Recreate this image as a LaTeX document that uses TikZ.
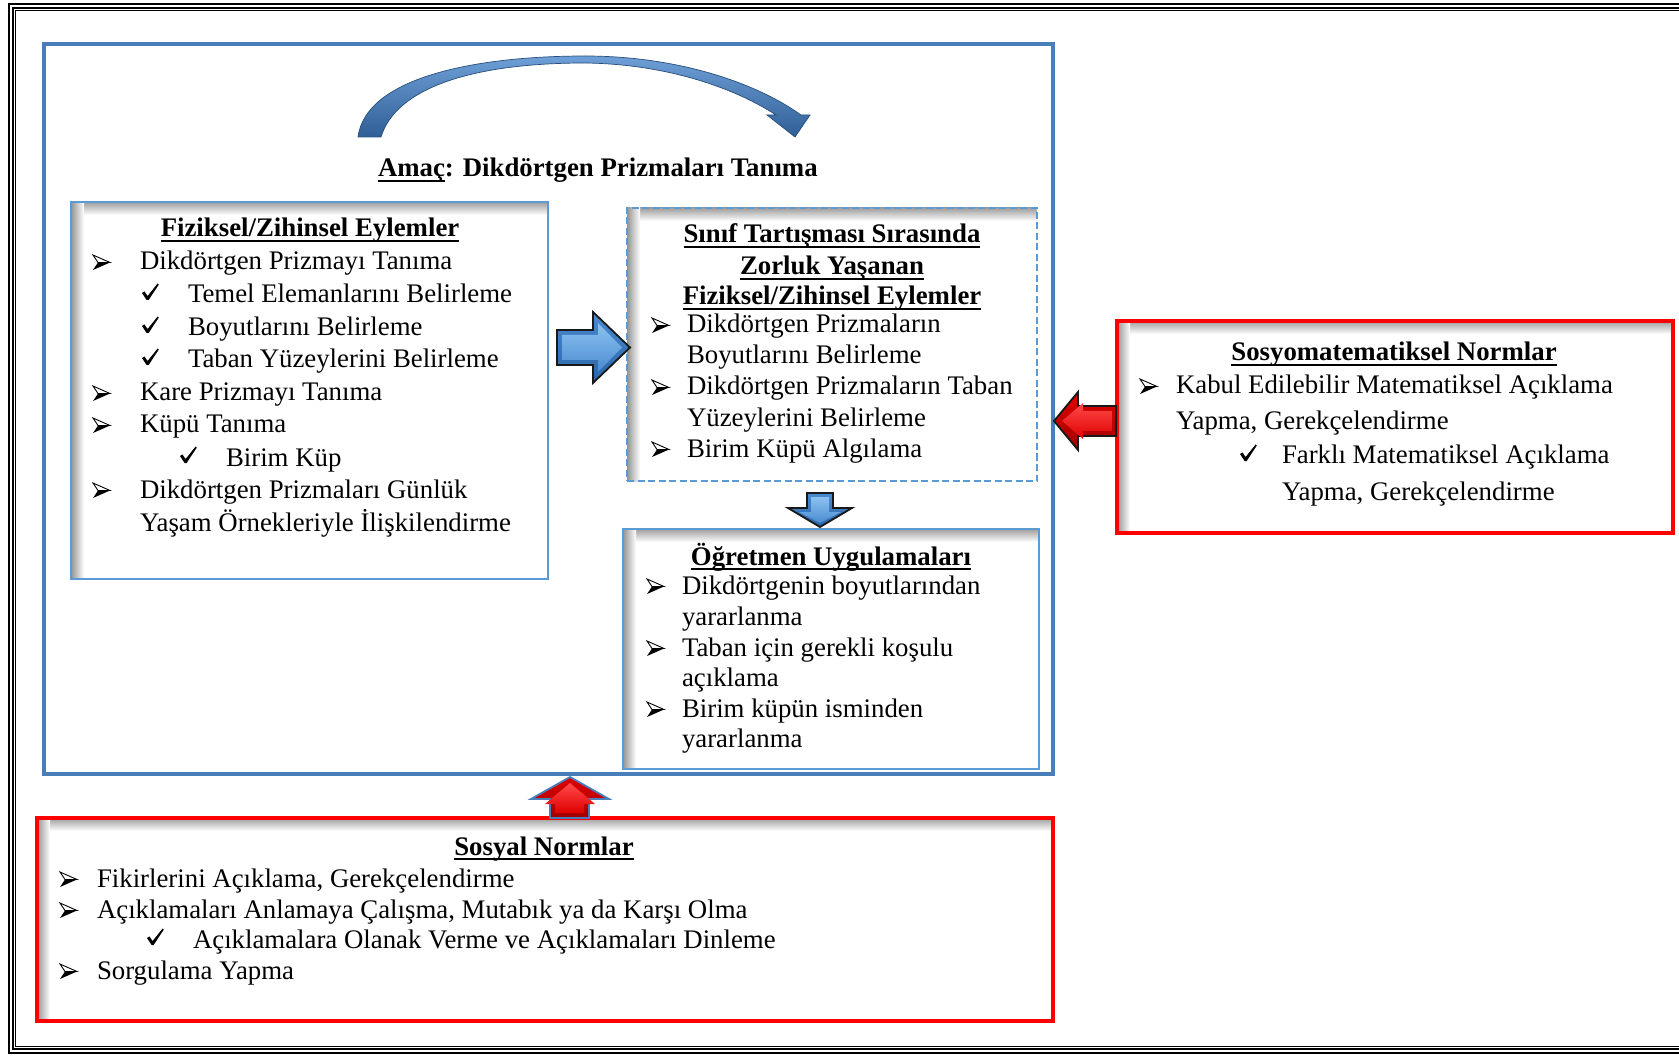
\documentclass[tikz,border=0pt]{standalone}
\usepackage{fontspec}
\setmainfont{Liberation Serif}
\usetikzlibrary{calc}
\definecolor{frameblue}{HTML}{4A7EBB}
\definecolor{boxblue}{HTML}{5B9BD5}
\definecolor{arrowlight}{HTML}{6E9FD6}
\definecolor{arrowdark}{HTML}{2F5F96}
\definecolor{arrowedge}{HTML}{274E7A}
\definecolor{blocklight}{HTML}{8CC2F0}
\definecolor{blockmid}{HTML}{4A8BD0}
\definecolor{blockdark}{HTML}{2A64A8}
\definecolor{redlight}{HTML}{FF4A4A}
\definecolor{redmid}{HTML}{E00000}
\definecolor{reddark}{HTML}{A00000}
\newcommand\body{\fontsize{26.8}{32}\selectfont}
% white panel with a soft inner shadow along its left and top edges
\newcommand\panel[6]{%
  \fill[white] (#3,#4) rectangle (#5,#6);
  \shade[top color=black!38, bottom color=white] (#3,#4) rectangle (#5,{#4+13});
  \shade[left color=black!42, right color=white] (#3,#4) rectangle ({#3+13},#6);
  \node[#1, anchor=north west, minimum width={(#5-#3)*1pt}, minimum height={(#6-#4)*1pt}] (#2) at (#3,#4) {};
}
\newcommand\uline[1]{\draw[ul] ([yshift=-4pt]#1.base west) -- ([yshift=-4pt]#1.base east);}
\begin{document}
\begin{tikzpicture}[x=1pt,y=-1pt,
  txt/.style={anchor=base west,inner sep=0pt,outer sep=0pt,font=\body},
  hd/.style={anchor=base,inner sep=0pt,outer sep=0pt,font=\body\bfseries},
  ul/.style={line width=1.8pt},
  bluebox/.style={draw=boxblue,line width=2.4pt,inner sep=0pt,outer sep=0pt},
  dashbox/.style={bluebox,dash pattern=on 7pt off 3.5pt},
  redbox/.style={draw=red,line width=3.5pt,inner sep=0pt,outer sep=0pt},
  mainbox/.style={draw=frameblue,line width=3.2pt,inner sep=0pt,outer sep=0pt},
  bluearrow/.style={top color=blockmid,bottom color=blockdark,draw=black!90,line width=1.8pt,line join=miter},
  bluebevel/.style={top color=blocklight,bottom color=blockmid},
  redarrow/.style={top color=redmid,bottom color=reddark,draw=black!90,line width=1.8pt,line join=miter},
  redbevel/.style={top color=redlight,bottom color=redmid},
  arrbul/.pic={
    \fill[black] (5,-7.5) -- (17,-7.5) -- (0,0) -- cycle;
    \draw[black,line width=0.9pt,line join=miter] (0,-15) -- (17,-7.5) -- (5,-7.5) -- cycle;
  },
  chk/.pic={
    \fill[black] (0,-10) -- (2.4,-11.6) -- (5.6,-7) -- (15.6,-19.5) -- (16.8,-18.4) -- (6.6,-3) -- (4.6,-3) -- cycle;
  }]
\useasboundingbox (0,0) rectangle (1679,1056);
\clip (0,0) rectangle (1679,1056);
\fill[white] (0,0) rectangle (1679,1056);

% page frame
\draw[line width=2.4pt] (9,4) rectangle (1710,1053);
\draw[line width=1.1pt] (13,8) rectangle (1706,1049);
\draw[line width=1.1pt] (15.5,10.5) rectangle (1703,1046.5);

% goal container
\node[mainbox, anchor=north west, minimum width=1009pt, minimum height=730pt] (goalbox) at (44,44) {};

% curved arrow over the goal
\shade[top color=arrowlight, bottom color=arrowdark, draw=arrowedge, line width=0.7pt, line join=miter]
  (358,137) .. controls (366,76) and (480,56) .. (585,56)
  .. controls (680,56) and (758,84) .. (801,115)
  -- (810,115) -- (795,137) -- (767,115) -- (776,115)
  .. controls (738,90) and (670,64) .. (585,63)
  .. controls (472,63) and (396,88) .. (381,137) -- cycle;

% goal title
\node[txt,font=\body\bfseries] (amac) at (378,177) {Amaç};
\node[txt,font=\body\bfseries] (goal) at (amac.base east) {: Dikdörtgen Prizmaları Tanıma};
\uline{amac}

% panels
\panel{bluebox}{physA}{71}{202}{548}{579}
\panel{dashbox}{hardB}{627}{208}{1037}{481}
\panel{bluebox}{teachC}{623}{529}{1039}{769}
\panel{redbox}{smathD}{1117}{321}{1673}{533}
\panel{redbox}{socialE}{37}{818}{1053}{1021}

% bevelled block arrows
\shade[bluearrow] (557,330) -- (593,330) -- (593,312) -- (630,347.5) -- (593,383) -- (593,365) -- (557,365) -- cycle;
\shade[bluebevel] (562,335) -- (598,335) -- (598,323) -- (622,347.5) -- (598,372) -- (598,360) -- (562,360) -- cycle;
\shade[bluearrow] (807,493) -- (833,493) -- (833,508) -- (852,508) -- (820,527) -- (788,508) -- (807,508) -- cycle;
\shade[bluebevel] (811,497) -- (829,497) -- (829,512) -- (841,512) -- (820,523) -- (799,512) -- (811,512) -- cycle;
\shade[redarrow] (1116,406) -- (1078,406) -- (1078,392) -- (1054,421) -- (1078,450) -- (1078,436) -- (1116,436) -- cycle;
\shade[redbevel] (1112,411) -- (1083,411) -- (1083,403) -- (1062,421) -- (1083,439) -- (1083,431) -- (1112,431) -- cycle;
\shade[redarrow,draw=frameblue] (550,818) -- (550,799) -- (531,799) -- (570,777) -- (609,799) -- (589,799) -- (589,818) -- cycle;
\shade[redbevel] (555,813) -- (555,804) -- (545,804) -- (570,783) -- (595,804) -- (584,804) -- (584,813) -- cycle;

% physical / mental actions
\node[hd] (hA) at (310,237) {Fiziksel/Zihinsel Eylemler}; \uline{hA}
\pic at (93,270) {arrbul}; \node[txt] (a1) at (140,270) {Dikdörtgen Prizmayı Tanıma};
\pic at (142,303) {chk};   \node[txt] (a2) at (188,303) {Temel Elemanlarını Belirleme};
\pic at (142,336) {chk};   \node[txt] (a3) at (188,336) {Boyutlarını Belirleme};
\pic at (142,368) {chk};   \node[txt] (a4) at (188,368) {Taban Yüzeylerini Belirleme};
\pic at (93,401) {arrbul}; \node[txt] (a5) at (140,401) {Kare Prizmayı Tanıma};
\pic at (93,433) {arrbul}; \node[txt] (a6) at (140,433) {Küpü Tanıma};
\pic at (180,466) {chk};   \node[txt] (a7) at (226,466) {Birim Küp};
\pic at (93,498) {arrbul}; \node[txt] (a8) at (140,498) {Dikdörtgen Prizmaları Günlük};
\node[txt] (a9) at (140,531) {Yaşam Örnekleriyle İlişkilendirme};

% difficult actions in discussion
\node[hd] (hB1) at (832,243) {Sınıf Tartışması Sırasında}; \uline{hB1}
\node[hd] (hB2) at (832,275) {Zorluk Yaşanan}; \uline{hB2}
\node[hd] (hB3) at (832,305) {Fiziksel/Zihinsel Eylemler}; \uline{hB3}
\pic at (652,333) {arrbul}; \node[txt] (b1) at (687,333) {Dikdörtgen Prizmaların};
\node[txt] (b2) at (687,364) {Boyutlarını Belirleme};
\pic at (652,395) {arrbul}; \node[txt] (b3) at (687,395) {Dikdörtgen Prizmaların Taban};
\node[txt] (b4) at (687,427) {Yüzeylerini Belirleme};
\pic at (652,457) {arrbul}; \node[txt] (b5) at (687,457) {Birim Küpü Algılama};

% teacher practices
\node[hd] (hC) at (831,565) {Öğretmen Uygulamaları}; \uline{hC}
\pic at (647,594) {arrbul}; \node[txt] (c1) at (682,594) {Dikdörtgenin boyutlarından};
\node[txt] (c2) at (682,625) {yararlanma};
\pic at (647,656) {arrbul}; \node[txt] (c3) at (682,656) {Taban için gerekli koşulu};
\node[txt] (c4) at (682,686) {açıklama};
\pic at (647,717) {arrbul}; \node[txt] (c5) at (682,717) {Birim küpün isminden};
\node[txt] (c6) at (682,747) {yararlanma};

% sociomathematical norms
\node[hd] (hD) at (1394,361) {Sosyomatematiksel Normlar}; \uline{hD}
\pic at (1140,394) {arrbul}; \node[txt] (d1) at (1176,394) {Kabul Edilebilir Matematiksel Açıklama};
\node[txt] (d2) at (1176,429) {Yapma, Gerekçelendirme};
\pic at (1240,464) {chk};    \node[txt] (d3) at (1282,464) {Farklı Matematiksel Açıklama};
\node[txt] (d4) at (1282,500) {Yapma, Gerekçelendirme};

% social norms
\node[hd] (hE) at (544,855) {Sosyal Normlar}; \uline{hE}
\pic at (60,887) {arrbul}; \node[txt] (e1) at (97,887) {Fikirlerini Açıklama, Gerekçelendirme};
\pic at (60,918) {arrbul}; \node[txt] (e2) at (97,918) {Açıklamaları Anlamaya Çalışma, Mutabık ya da Karşı Olma};
\pic at (147,948) {chk};   \node[txt] (e3) at (193,948) {Açıklamalara Olanak Verme ve Açıklamaları Dinleme};
\pic at (60,979) {arrbul}; \node[txt] (e4) at (97,979) {Sorgulama Yapma};
\end{tikzpicture}
\end{document}
